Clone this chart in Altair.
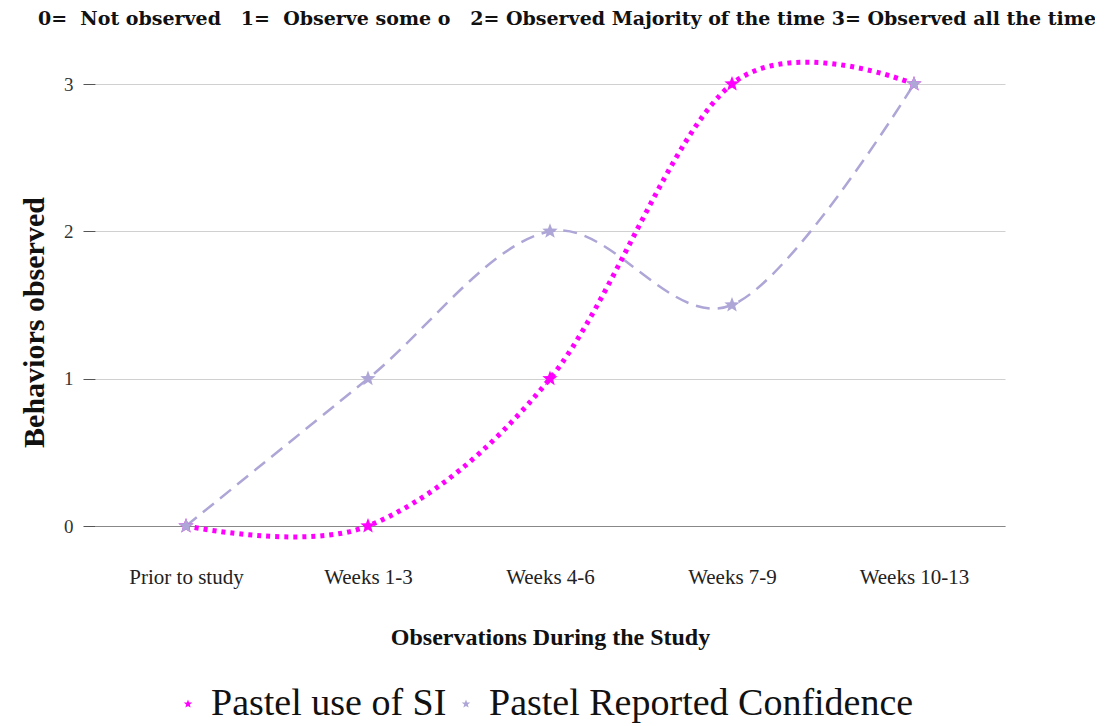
import math
import altair as alt
import pandas as pd

categories = ["Prior to study", "Weeks 1-3", "Weeks 4-6", "Weeks 7-9", "Weeks 10-13"]
si_values = [0, 0, 1, 3, 3]
conf_values = [0, 1, 2, 1.5, 3]
series_names = ["Pastel use of SI", "Pastel Reported Confidence"]
series_colors = ["#FF00FF", "#ADA6D6"]
y_ticks = [0, 1, 2, 3]
NB = "\u00a0"
header_text = (f"0={NB}{NB}Not observed{NB}{NB} 1={NB}{NB}Observe some o{NB}{NB} "
               f"2= Observed Majority of the time 3= Observed all the time")

rows = []
for c, v in zip(categories, si_values):
    rows.append({"period": c, "value": v, "series": series_names[0]})
for c, v in zip(categories, conf_values):
    rows.append({"period": c, "value": v, "series": series_names[1]})
df = pd.DataFrame(rows)

# five-pointed star symbol path (unit size)
pts = []
for i in range(10):
    r = 1.0 if i % 2 == 0 else 0.42
    a = math.radians(-90 + 36 * i)
    pts.append(f"{r * math.cos(a):.4f},{r * math.sin(a):.4f}")
STAR = "M" + " L".join(pts) + " Z"

serif = "Liberation Serif"

x_enc = alt.X("period:N", sort=categories, scale=alt.Scale(type="point", padding=0.5),
              title="Observations During the Study",
              axis=alt.Axis(labelAngle=0, ticks=False, grid=False, domain=True,
                            domainColor="#888888", domainWidth=1.2,
                            labelFont=serif, labelFontSize=21, labelColor="#222222",
                            labelPadding=40,
                            titleFont=serif, titleFontSize=24, titleFontWeight="bold",
                            titleColor="#111111", titlePadding=38))
y_enc = alt.Y("value:Q", scale=alt.Scale(domain=[0, 3], nice=False),
              title="Behaviors observed",
              axis=alt.Axis(values=y_ticks, format="d", domain=False, ticks=True,
                            tickSize=12, tickColor="#555555",
                            gridColor="#D0D0D0", gridWidth=1,
                            labelFont=serif, labelFontSize=19, labelColor="#333333",
                            labelPadding=10,
                            titleFont=serif, titleFontSize=30, titleFontWeight="bold",
                            titleColor="#111111", titlePadding=14, titleY=238))

legend = alt.Legend(title=None, orient="none", direction="horizontal",
                    legendX=74, legendY=601,
                    symbolType=STAR, symbolSize=80, symbolStrokeWidth=0,
                    labelFont=serif, labelFontSize=38,
                    labelColor="#111111", labelLimit=1000,
                    columnPadding=0)
color_enc = alt.Color("series:N", sort=series_names,
                      scale=alt.Scale(domain=series_names, range=series_colors),
                      legend=legend)

base = alt.Chart(df)

conf_line = base.transform_filter(
    alt.datum.series == series_names[1]
).mark_line(interpolate="cardinal", strokeDash=[14, 8], strokeWidth=2.5).encode(
    x=x_enc, y=y_enc, color=color_enc,
)

si_line = base.transform_filter(
    alt.datum.series == series_names[0]
).mark_line(interpolate="cardinal", strokeDash=[4, 5], strokeWidth=5).encode(
    x=x_enc, y=y_enc, color=color_enc,
)

points = base.mark_point(shape=STAR, filled=True, size=260, opacity=1).encode(
    x=x_enc, y=y_enc, color=color_enc,
)

header = alt.Chart(pd.DataFrame({"t": [header_text]})).mark_text(
    font="DejaVu Serif", fontSize=19, fontWeight="bold", color="#111111",
    align="center", baseline="middle",
).encode(text="t:N", x=alt.value(472), y=alt.value(-65))

chart = alt.layer(conf_line, si_line, points, header).properties(
    width=910, height=442,
    padding={"left": 87, "top": 76, "right": 90, "bottom": 200},
    autosize=alt.AutoSizeParams(type="none"),
).configure_view(stroke=None)

chart.save("out.html", embed_options={"renderer": "svg", "actions": False})
